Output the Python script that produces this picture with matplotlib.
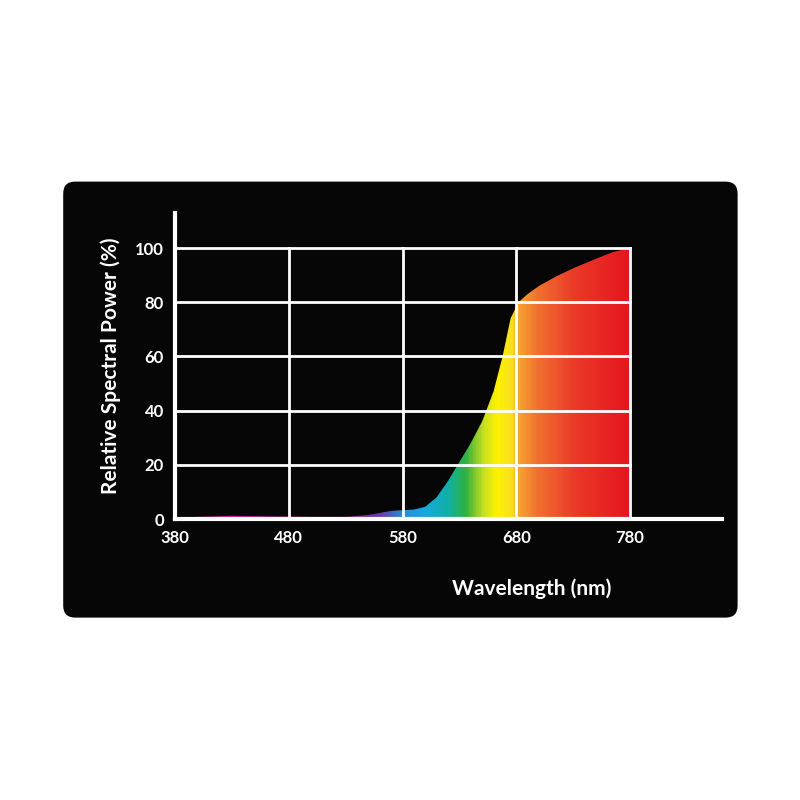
import numpy as np
import matplotlib
matplotlib.use("Agg")
import matplotlib.pyplot as plt
from matplotlib.patches import FancyBboxPatch, Polygon
from matplotlib.colors import LinearSegmentedColormap

wavelength = [380, 400, 430, 460, 500, 530, 550, 570, 590, 600, 610, 620, 630, 640, 650, 660, 668, 675, 682, 690, 700, 715, 730, 750, 765, 780]
power = [0.5, 0.8, 1.2, 1.0, 0.8, 0.8, 1.5, 3.0, 3.5, 4.5, 8, 14, 21, 28, 36, 47, 60, 74, 80, 83, 86, 89.5, 92.5, 96, 98.5, 100]
xticks = [380, 480, 580, 680, 780]
yticks = [0, 20, 40, 60, 80, 100]

font = "Lato"
fig = plt.figure(figsize=(8, 8), dpi=100)
fig.patch.set_facecolor("white")
bg = FancyBboxPatch((0.079, 0.228), 0.843, 0.545, boxstyle="round,pad=0,rounding_size=0.015",
                    transform=fig.transFigure, facecolor="#060606", edgecolor="none", zorder=-10)
fig.patches.append(bg)

ax = fig.add_axes([175/800, 1-519/800, (722-175)/800, (519-213)/800])
ax.set_zorder(5)
ax.set_facecolor("none")
ax.set_xlim(380, 380 + (722-175)/1.1375)
ax.set_ylim(0, 100 + (248-213)/2.71)

for x in xticks[1:]:
    ax.plot([x, x], [0, 100], color="white", lw=2, zorder=3)
for y in yticks[1:]:
    ax.plot([380, 780], [y, y], color="white", lw=2, zorder=3)

cmap = LinearSegmentedColormap.from_list("spec", [
    (0.0, "#c8187a"), (0.35, "#b01a8a"), (0.45, "#6a3aa8"), (0.5, "#2a8ad8"),
    (0.55, "#18a8e0"), (0.6, "#10b0a8"), (0.64, "#30b040"), (0.68, "#c8e020"),
    (0.71, "#fff200"), (0.74, "#f8e020"), (0.76, "#f5a030"), (0.8, "#f07030"),
    (0.88, "#ea3a28"), (1.0, "#e5161e")])
grad = np.linspace(0, 1, 400).reshape(1, -1)
im = ax.imshow(grad, extent=[380, 780, 0, 100], aspect="auto", cmap=cmap, zorder=2)
ax.set_xlim(380, 380 + (722-175)/1.1375)
ax.set_ylim(0, 100 + (248-213)/2.71)
verts = list(zip(wavelength, power)) + [(780, 0), (380, 0)]
poly = Polygon(verts, closed=True, transform=ax.transData, facecolor="none", edgecolor="none")
ax.add_patch(poly)
im.set_clip_path(poly)

for s in ["top", "right"]:
    ax.spines[s].set_visible(False)
for s in ["left", "bottom"]:
    ax.spines[s].set_color("white")
    ax.spines[s].set_linewidth(3)
    ax.spines[s].set_zorder(5)
ax.set_xticks(xticks)
ax.set_yticks(yticks)
ax.tick_params(length=0, colors="white", labelsize=12, pad=8)
for lab in ax.get_xticklabels() + ax.get_yticklabels():
    lab.set_fontfamily(font); lab.set_fontweight("bold")
ax.set_xlabel("Wavelength (nm)", color="white", fontsize=15, fontweight="bold", fontfamily=font, labelpad=10)
ax.set_ylabel("Relative Spectral Power (%)", color="white", fontsize=15, fontweight="bold", fontfamily=font, labelpad=10)
ax.xaxis.set_label_coords((532-175)/547, -(578-519)/306)
fig.savefig("out.png", dpi=100, facecolor="white")
